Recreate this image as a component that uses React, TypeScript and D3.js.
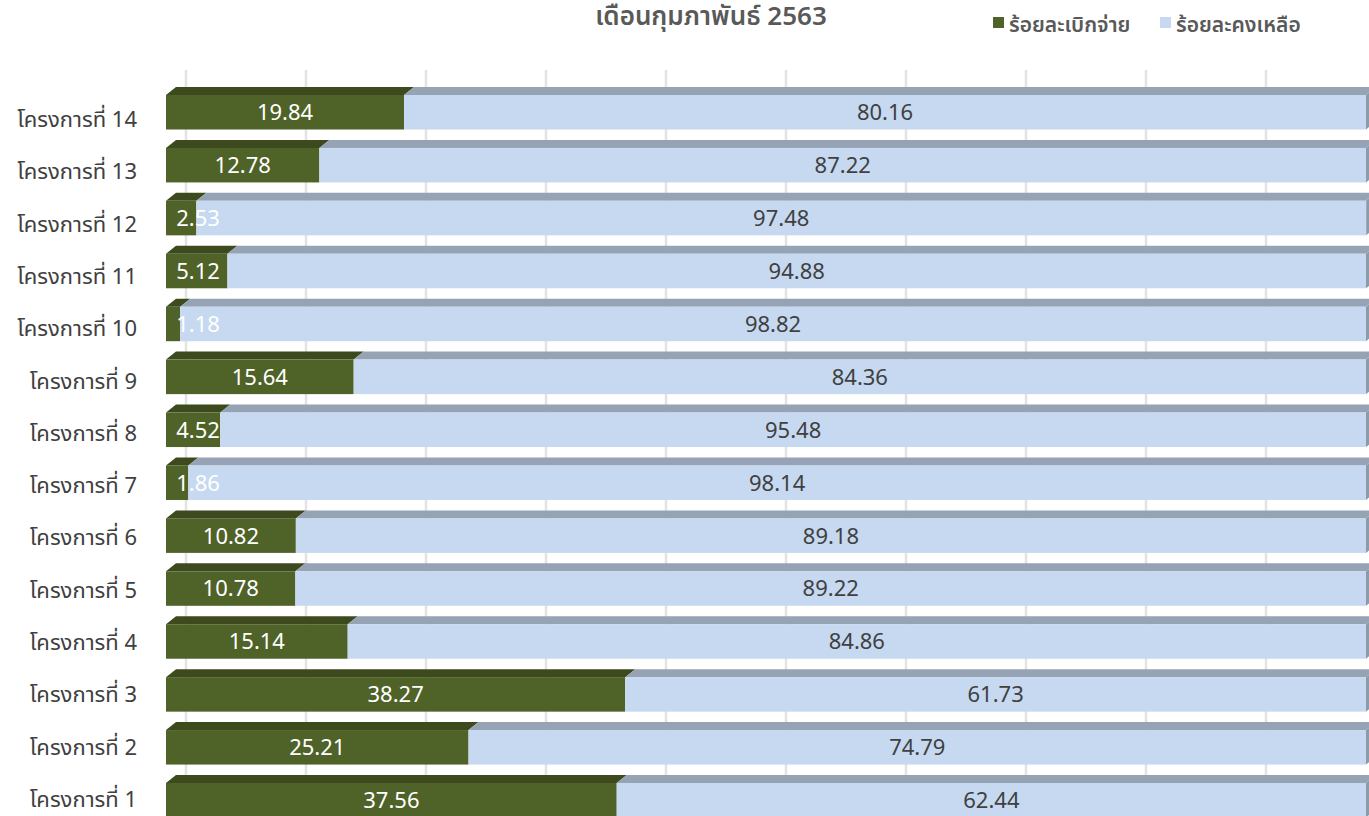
import React from "react";
import * as d3 from "d3";

const categories = [
  "โครงการที่ 1", "โครงการที่ 2", "โครงการที่ 3", "โครงการที่ 4", "โครงการที่ 5",
  "โครงการที่ 6", "โครงการที่ 7", "โครงการที่ 8", "โครงการที่ 9", "โครงการที่ 10",
  "โครงการที่ 11", "โครงการที่ 12", "โครงการที่ 13", "โครงการที่ 14",
];
const disbursed = [37.56, 25.21, 38.27, 15.14, 10.78, 10.82, 1.86, 4.52, 15.64, 1.18, 5.12, 2.53, 12.78, 19.84];
const remaining = [62.44, 74.79, 61.73, 84.86, 89.22, 89.18, 98.14, 95.48, 84.36, 98.82, 94.88, 97.48, 87.22, 80.16];
const gridTicks = [0, 10, 20, 30, 40, 50, 60, 70, 80, 90];
const seriesNames = ["ร้อยละเบิกจ่าย", "ร้อยละคงเหลือ"];
const title = "เดือนกุมภาพันธ์ 2563";

const W = 1369;
const H = 816;
const FONT = "Tahoma, 'Noto Sans Thai', 'Noto Sans', 'DejaVu Sans', sans-serif";
const GREEN = "#4F6228";
const GREEN_TOP = "#3C4A1E";
const BLUE = "#C6D9F1";
const BLUE_TOP = "#95A3B5";
const BLUE_SIDE = "#8D9AAA";
const DX = 10;
const DY = 8;

export default function App() {
  const order = categories.slice().reverse();
  const x = d3.scaleLinear().domain([0, 100]).range([166, 1366]);
  const y = d3.scaleBand<string>().domain(order).range([85.8, 826.7]).paddingInner(0.348).paddingOuter(0.174);
  const yLabel = d3.scalePoint<string>().domain(order).range([127, 807]);
  const h = y.bandwidth();

  const face = (x0: number, x1: number, yf: number) =>
    `M${x0},${yf}L${x0 + DX},${yf - DY}L${x1 + DX},${yf - DY}L${x1},${yf}Z`;

  return (
    <svg width={W} height={H} style={{ position: "absolute", left: 0, top: 0, background: "#fff" }} fontFamily={FONT}>
      <text x={711} y={25} textAnchor="middle" fontSize={26} fontWeight="600" fill="#595959">{title}</text>
      {/* legend */}
      <rect x={993} y={17} width={11} height={11} fill={GREEN} />
      <text x={1009} y={32} fontSize={21} fontWeight="600" fill="#595959">{seriesNames[0]}</text>
      <rect x={1160} y={17} width={11} height={11} fill={BLUE} />
      <text x={1176} y={32} fontSize={21} fontWeight="600" fill="#595959">{seriesNames[1]}</text>
      {/* gridlines */}
      {gridTicks.map((t) => (
        <line key={t} x1={x(t) + 20} x2={x(t) + 20} y1={70} y2={H} stroke="#E3E3E3" strokeWidth={2.5} />
      ))}
      {categories.map((c, i) => {
        const yf = y(c)!;
        const g = disbursed[i];
        const r = remaining[i];
        const x0 = x(0);
        const xg = x(g);
        const x1 = x(g + r);
        const gCenter = Math.max((x0 + xg) / 2, x0 + 32);
        return (
          <g key={c}>
            <path d={face(x0, xg, yf)} fill={GREEN_TOP} />
            <path d={face(xg, x1, yf)} fill={BLUE_TOP} />
            <path d={`M${x1},${yf}L${x1 + DX},${yf - DY}L${x1 + DX},${yf + h - DY}L${x1},${yf + h}Z`} fill={BLUE_SIDE} />
            <rect x={x0} y={yf} width={xg - x0} height={h} fill={GREEN} />
            <rect x={xg} y={yf} width={x1 - xg} height={h} fill={BLUE} />
            <text x={(xg + x1) / 2} y={yf + h / 2} dy="0.36em" textAnchor="middle" fontSize={22} fill="#404040">{r.toFixed(2)}</text>
            <text x={gCenter} y={yf + h / 2} dy="0.36em" textAnchor="middle" fontSize={22} fill="#FFFFFF">{g.toFixed(2)}</text>
            <text x={137} y={yLabel(c)!} textAnchor="end" fontSize={22} fill="#404040">{c}</text>
          </g>
        );
      })}
    </svg>
  );
}
